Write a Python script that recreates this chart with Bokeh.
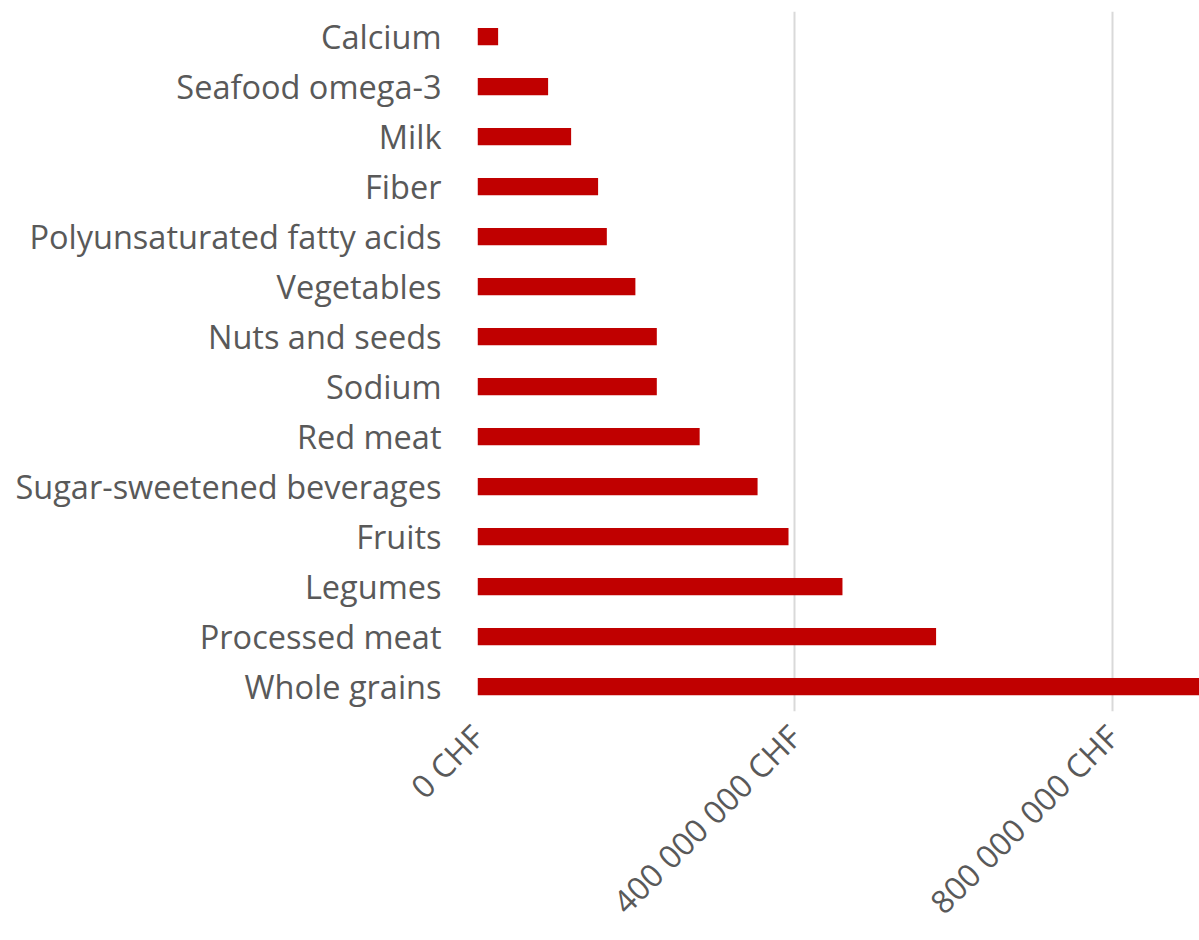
import math
from bokeh.plotting import figure
from bokeh.models import FactorRange, Range1d, FixedTicker, ColumnDataSource
from bokeh.embed import file_html
from bokeh.resources import INLINE

categories = ["Calcium", "Seafood omega-3", "Milk", "Fiber", "Polyunsaturated fatty acids",
              "Vegetables", "Nuts and seeds", "Sodium", "Red meat", "Sugar-sweetened beverages",
              "Fruits", "Legumes", "Processed meat", "Whole grains"]
values = [26e6, 89e6, 118e6, 152e6, 163e6, 199e6, 226e6, 226e6, 280e6, 353e6,
          392e6, 460e6, 578e6, 920e6]
tick_values = [0, 400e6, 800e6]
tick_labels = ["0 CHF", "400 000 000 CHF", "800 000 000 CHF"]

src = ColumnDataSource(dict(cat=categories, val=values))

p = figure(width=1199, height=940, output_backend="svg", toolbar_location=None,
           y_range=FactorRange(factors=list(reversed(categories)), range_padding=0),
           x_range=Range1d(0, 910e6),
           min_border_left=477, min_border_right=0, min_border_top=11, min_border_bottom=224)
p.outline_line_color = None
p.hbar(y="cat", right="val", left=0, height=0.345, source=src, color="#C00000",
       line_color=None)

p.ygrid.grid_line_color = None
p.xgrid.grid_line_color = "#D9D9D9"
p.xgrid.grid_line_width = 2
p.xaxis.ticker = FixedTicker(ticks=tick_values)
p.xaxis.major_label_overrides = {v: l for v, l in zip(tick_values, tick_labels)}
p.xaxis.major_label_orientation = math.pi / 4

for ax in (p.xaxis, p.yaxis):
    ax.axis_line_color = None
    ax.major_tick_line_color = None
    ax.minor_tick_line_color = None
    ax.major_tick_out = 0
    ax.major_tick_in = 0
    ax.major_label_text_font = "Open Sans"
    ax.major_label_text_color = "#595959"
p.yaxis.major_label_text_font_size = "32.5px"
p.xaxis.major_label_text_font_size = "32px"
p.yaxis.major_label_standoff = 36
p.xaxis.major_label_standoff = 19

open("out.html", "w").write(file_html(p, INLINE))
